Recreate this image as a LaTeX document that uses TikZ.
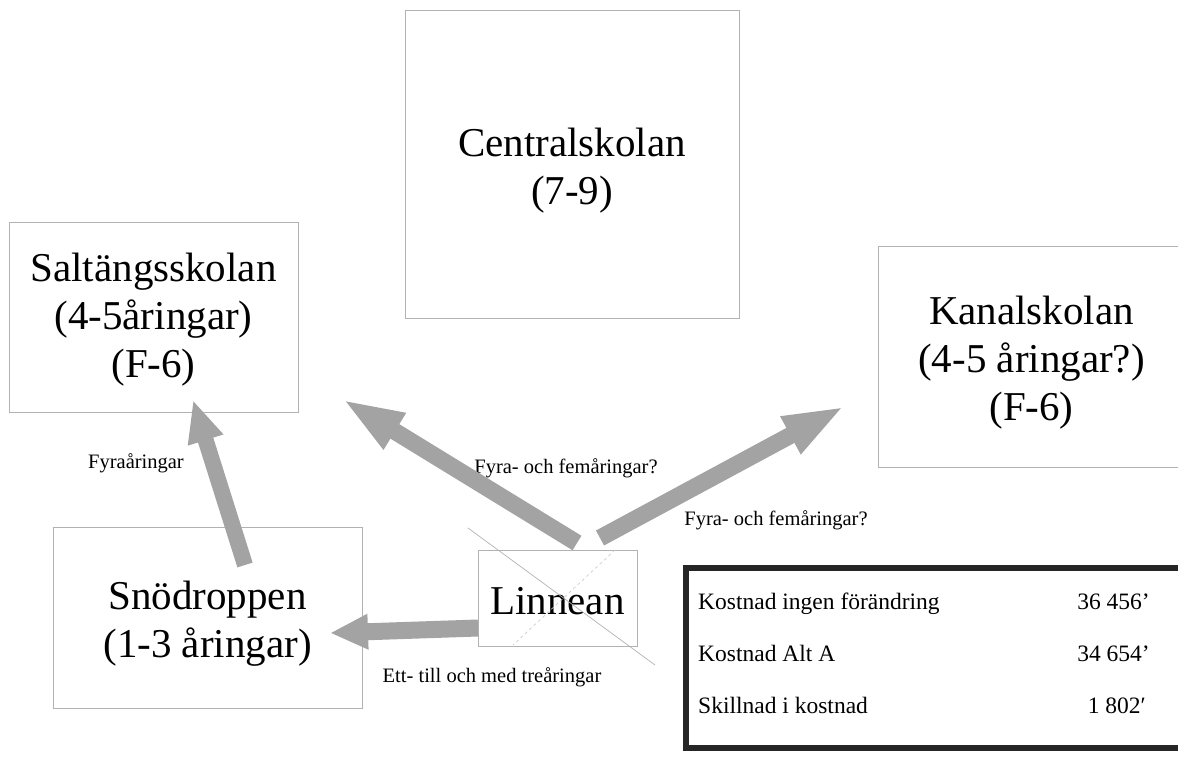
\documentclass[tikz,border=0pt]{standalone}
\usepackage{fontspec}
\setmainfont{Liberation Serif}
\usetikzlibrary{arrows.meta}
\begin{document}
\begin{tikzpicture}[x=1pt,y=-1pt,
  box/.style={draw=gray!60, line width=0.9pt, inner sep=0pt},
  boxtext/.style={align=center, inner sep=0pt, font=\fontsize{41}{48}\selectfont},
  lbl/.style={inner sep=0pt, font=\fontsize{20.5}{24}\selectfont},
  cell/.style={inner sep=0pt, font=\fontsize{23.5}{28}\selectfont},
  bigarrow/.style={draw=black!36},
  crossline/.style={draw=gray!60, line width=0.7pt}]
\useasboundingbox (0,0) rectangle (1178,759);
% boxes
\node[box, minimum width=289, minimum height=190] (salt) at (153.5,317) {};
\node[box, minimum width=334, minimum height=308] (cent) at (572,164) {};
\node[box, minimum width=307, minimum height=221] (kanal) at (1031.5,356.5) {};
\node[box, minimum width=309, minimum height=181] (snod) at (207.5,617.5) {};
\node[box, minimum width=159, minimum height=96] (lin) at (557.5,598) {};
% box texts
\node[boxtext] (salt-t) at ([yshift=-3pt]salt.center) {Saltängsskolan\\(4-5åringar)\\(F-6)};
\node[boxtext] (cent-t) at ([yshift=-7pt]cent.center) {Centralskolan\\(7-9)};
\node[boxtext] (kanal-t) at ([yshift=-6pt]kanal.center) {Kanalskolan\\(4-5 åringar?)\\(F-6)};
\node[boxtext] (snod-t) at ([yshift=-6pt]snod.center) {Snödroppen\\(1-3 åringar)};
\node[boxtext] (lin-t) at ([yshift=-3pt]lin.center) {Linnean};
% cross over Linnean
\coordinate (c1a) at (468,528); \coordinate (c1b) at (655,665);
\coordinate (c2a) at (615,550); \coordinate (c2b) at (513,645);
\draw[crossline] (c1a) -- (c1b);
\draw[crossline, draw=gray!40, dashed] (c2a) -- (c2b);
% labels
\node[lbl] (l1) at (136,463) {Fyraåringar};
\node[lbl] (l2) at (566,468) {Fyra- och femåringar?};
\node[lbl] (l3) at (776,520) {Fyra- och femåringar?};
\node[lbl] (l4) at (492,677) {Ett- till och med treåringar};
% arrows
\coordinate (t1) at (245,565); \coordinate (h1) at (193,400);
\coordinate (t2) at (478,628); \coordinate (h2) at (330,633);
\coordinate (t3) at (577,543); \coordinate (h3) at (342,399);
\coordinate (t4) at (600,538); \coordinate (h4) at (845,406);
\draw[bigarrow, line width=16pt, -{Triangle[length=42pt,width=34pt]}] (t1) -- (h1);
\draw[bigarrow, line width=17pt, -{Triangle[length=38pt,width=33pt]}] (t2) -- (h2);
\draw[bigarrow, line width=17pt, -{Triangle[length=62pt,width=38pt]}] (t3) -- (h3);
\draw[bigarrow, line width=17pt, -{Triangle[length=62pt,width=38pt]}] (t4) -- (h4);
% cost table
\node[draw=black!85, line width=6pt, minimum width=504, minimum height=180, inner sep=0pt] (tab) at (938,658) {};
\node[cell, anchor=base west] (r1) at (698,609) {Kostnad ingen förändring};
\node[cell, anchor=base west] (r2) at (698,661) {Kostnad Alt A};
\node[cell, anchor=base west] (r3) at (698,713) {Skillnad i kostnad};
\node[cell, anchor=base east] (v1) at (1150,609) {36 456’};
\node[cell, anchor=base east] (v2) at (1150,661) {34 654’};
\node[cell, anchor=base east] (v3) at (1146,713) {1 802′};
\end{tikzpicture}
\end{document}
